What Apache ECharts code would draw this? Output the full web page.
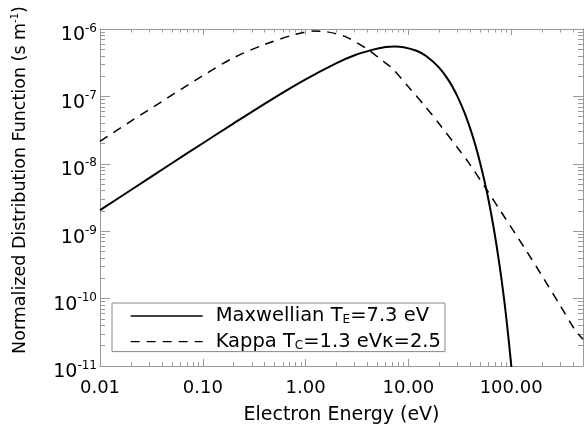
<!DOCTYPE html>
<html><head><meta charset="utf-8">
<script src="https://cdn.jsdelivr.net/npm/echarts@6/dist/echarts.min.js"></script>
<style>html,body{margin:0;padding:0;background:#fff}#c{width:585px;height:430px}</style>
</head><body><div id="c"></div>
<script>
// Maxwellian curve (energy in eV, normalized distribution function)
const maxE = [0.01, 0.02, 0.05, 0.1, 0.2, 0.5, 1, 2, 3, 4.43, 6, 7.3, 9, 12, 15, 20, 25, 30, 35, 40, 45, 50, 57.4, 65, 72, 81.4, 90, 100.4, 104];
const maxF = [2.05e-9, 4.09e-9, 1.02e-8, 2.02e-8, 3.99e-8, 9.6e-8, 1.79e-7, 3.12e-7, 4.08e-7, 4.9e-7, 5.41e-7, 5.5e-7, 5.38e-7, 4.75e-7, 3.94e-7, 2.65e-7, 1.67e-7, 1.0e-7, 5.83e-8, 3.32e-8, 1.86e-8, 1.02e-8, 4.15e-9, 1.57e-9, 6.24e-10, 1.73e-10, 4.97e-11, 9.9e-12, 5.6e-12];
// Kappa curve
const kapE = [0.01, 0.02, 0.04, 0.1, 0.2, 0.4, 0.8, 1.2, 1.6, 2.44, 4, 5.5, 6.93, 10, 14.6, 20, 31, 38.6, 57.4, 80, 137, 200, 300, 421, 500];
const kapF = [2.16e-8, 4.3e-8, 8.4e-8, 2.03e-7, 3.75e-7, 5.9e-7, 8.35e-7, 9.3e-7, 9.1e-7, 7.7e-7, 5.0e-7, 3.45e-7, 2.63e-7, 1.39e-7, 7.1e-8, 3.9e-8, 1.63e-8, 1.04e-8, 4.19e-9, 1.93e-9, 5.45e-10, 2.17e-10, 7.9e-11, 3.38e-11, 2.5e-11];

const seriesNames = ['Maxwellian', 'Kappa'];
const xMajor = [0.01, 0.1, 1, 10, 100];
const xLabels = ['0.01', '0.10', '1.00', '10.00', '100.00'];
const xMinor = [0.02,0.03,0.04,0.05,0.06,0.07,0.08,0.09,0.2,0.3,0.4,0.5,0.6,0.7,0.8,0.9,2,3,4,5,6,7,8,9,20,30,40,50,60,70,80,90,200,300,400,500];
const yMajor = [1e-11, 1e-10, 1e-9, 1e-8, 1e-7, 1e-6];
const yExp = ['-11', '-10', '-9', '-8', '-7', '-6'];
const yMinor = [2e-11,3e-11,4e-11,5e-11,6e-11,7e-11,8e-11,9e-11,2e-10,3e-10,4e-10,5e-10,6e-10,7e-10,8e-10,9e-10,2e-9,3e-9,4e-9,5e-9,6e-9,7e-9,8e-9,9e-9,2e-8,3e-8,4e-8,5e-8,6e-8,7e-8,8e-8,9e-8,2e-7,3e-7,4e-7,5e-7,6e-7,7e-7,8e-7,9e-7];

const FONT = 'DejaVu Sans';
const AX = '#9a9a9a';

function nearestIdx(arr, v) {
  let best = 0, bd = Infinity;
  arr.forEach((a, i) => { const d = Math.abs(Math.log10(a) - Math.log10(v)); if (d < bd) { bd = d; best = i; } });
  return best;
}

function xAx(pos, ticks, len, labels, line) {
  return {
    type: 'log', logBase: 10, min: 0.01, max: 500, gridIndex: 0, position: pos,
    axisLine: { show: line, onZero: false, lineStyle: { color: AX, width: 1 } },
    axisTick: { show: true, inside: true, length: len, customValues: ticks, lineStyle: { color: AX, width: 1 } },
    axisLabel: labels ? {
      show: true, customValues: xMajor, margin: 13, color: '#000', fontFamily: FONT, fontSize: 18,
      formatter: v => xLabels[nearestIdx(xMajor, v)]
    } : { show: false },
    splitLine: { show: false }, minorTick: { show: false }
  };
}
function yAx(pos, ticks, len, labels, line) {
  return {
    type: 'log', logBase: 10, min: 1e-11, max: 1e-6, gridIndex: 0, position: pos,
    axisLine: { show: line, onZero: false, lineStyle: { color: AX, width: 1 } },
    axisTick: { show: true, inside: true, length: len, customValues: ticks, lineStyle: { color: AX, width: 1 } },
    axisLabel: labels ? {
      show: true, customValues: yMajor, margin: 3, color: '#000', padding: [13, 0, 0, 0],
      formatter: v => '{a|10}{s|' + yExp[nearestIdx(yMajor, v)] + '}',
      rich: {
        a: { fontFamily: FONT, fontSize: 19, color: '#000' },
        s: { fontFamily: FONT, fontSize: 12, color: '#000', padding: [0, 0, 14, 0] }
      }
    } : { show: false },
    splitLine: { show: false }, minorTick: { show: false }
  };
}

const xAxes = [
  Object.assign(xAx('bottom', xMajor, 7, true, true), {
    name: 'Electron Energy (eV)', nameLocation: 'middle', nameGap: 40,
    nameTextStyle: { fontFamily: FONT, fontSize: 19, color: '#000' }
  }),
  xAx('bottom', xMinor, 4, false, false),
  xAx('top', xMajor, 6, false, true),
  xAx('top', xMinor, 3.5, false, false)
];
const yAxes = [
  yAx('left', yMajor, 10, true, true),
  yAx('left', yMinor, 5, false, false),
  yAx('right', yMajor, 10, false, true),
  yAx('right', yMinor, 5, false, false)
];

const chart = echarts.init(document.getElementById('c'), null, { renderer: 'canvas' });
chart.setOption({
  animation: false,
  backgroundColor: '#fff',
  grid: { left: 100, right: 2, top: 29, bottom: 61 },
  xAxis: xAxes,
  yAxis: yAxes,
  legend: {
    orient: 'vertical', left: 112, top: 303, padding: [3, 4, 0, 18],
    itemWidth: 72, itemHeight: 14, itemGap: 5.6,
    borderColor: '#888', borderWidth: 1, borderRadius: 0, backgroundColor: '#fff',
    data: seriesNames,
    itemStyle: { color: 'rgba(0,0,0,0)', borderWidth: 0, opacity: 0 },
    lineStyle: { width: 1.3 },
    formatter: name => name === 'Maxwellian'
      ? '{t|Maxwellian T}{sub|E}{t|=7.3 eV}'
      : '{t|Kappa T}{sub|C}{t|=1.3 eV}{t|κ=2.5}',
    textStyle: {
      padding: [0, 0, 0, 8],
      rich: {
        t: { fontFamily: FONT, fontSize: 19.5, color: '#000', lineHeight: 20 },
        sub: { fontFamily: FONT, fontSize: 12, color: '#000', lineHeight: 12, padding: [8, 0, 0, 0] }
      }
    }
  },
  graphic: [{
    type: 'text', x: 20, y: 180, rotation: Math.PI / 2,
    style: {
      text: '{n|Normalized Distribution Function (s m}{s|-1}{n|)}',
      align: 'center', verticalAlign: 'middle',
      rich: {
        n: { fontFamily: FONT, fontSize: 17.5, fill: '#000' },
        s: { fontFamily: FONT, fontSize: 10, fill: '#000', padding: [0, 0, 9, 0] }
      }
    }
  }],
  series: [
    {
      name: seriesNames[0], type: 'line', xAxisIndex: 0, yAxisIndex: 0,
      data: maxE.map((e, i) => [e, maxF[i]]), symbol: 'none', smooth: 0.3, clip: true,
      lineStyle: { color: '#000', width: 2, type: 'solid' }, itemStyle: { color: '#000' }
    },
    {
      name: seriesNames[1], type: 'line', xAxisIndex: 0, yAxisIndex: 0,
      data: kapE.map((e, i) => [e, kapF[i]]), symbol: 'none', smooth: 0.3, clip: true,
      lineStyle: { color: '#000', width: 1.5, type: [9, 7] }, itemStyle: { color: '#000' }
    }
  ]
});
</script></body></html>
